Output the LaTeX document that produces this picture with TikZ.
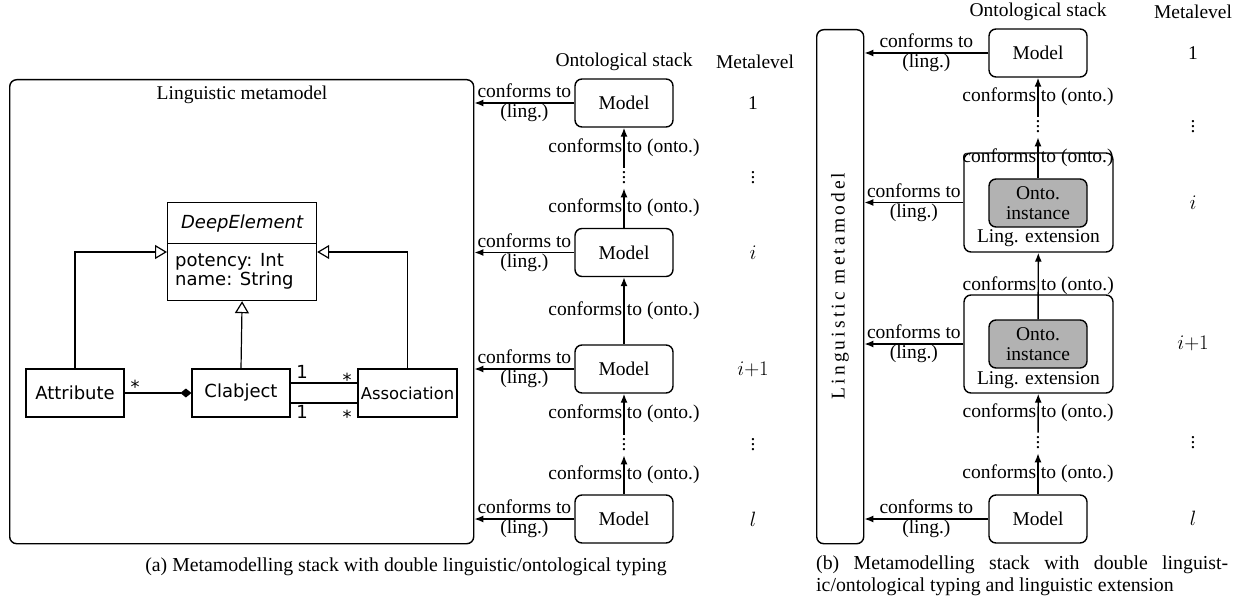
\documentclass[tikz,border=0pt]{standalone}
\usepackage{fontspec}
\setmainfont{Liberation Serif}
\newfontfamily\umlfont{DejaVu Sans}
\newfontfamily\spacedfont[LetterSpace=16]{Liberation Serif}
\usetikzlibrary{arrows.meta}
\newcommand\vdt{\vbox{\baselineskip5pt\lineskiplimit0pt\hbox{.}\hbox{.}\hbox{.}}}
\begin{document}
\begin{tikzpicture}[x=1pt,y=-1pt,
  every node/.style={font=\fontsize{19.5}{20}\selectfont, inner sep=0pt},
  mbox/.style={draw, rounded corners=7pt, line width=1.4pt, minimum width=98pt, minimum height=48pt},
  umlbox/.style={draw, line width=1.2pt, font=\umlfont\fontsize{18}{19}\selectfont, minimum width=98pt, minimum height=48pt},
  umltxt/.style={font=\umlfont\fontsize{18}{19}\selectfont},
  confarrow/.style={-{Latex[length=9pt,width=7pt]}, line width=1.4pt},
  genarrow/.style={-{Triangle[open,length=12pt,width=14pt]}, line width=1.2pt},
  dotsnode/.style={inner ysep=4pt, inner xsep=2pt},
  capfont/.style={font=\fontsize{19.8}{22}\selectfont}
]
\useasboundingbox (0,0) rectangle (1244,604);

% ================= Panel (a) =================
\node[draw, rounded corners=7pt, line width=1.4pt, minimum width=464pt, minimum height=464pt, anchor=north west] (lmm) at (9,79) {};
\node (lmmt) at (242,95) {Linguistic metamodel};

% UML
\node[draw, line width=1.2pt, minimum width=149pt, minimum height=41pt, anchor=north west, umltxt] (deh) at (167,202) {\itshape DeepElement};
\node[draw, line width=1.2pt, minimum width=149pt, minimum height=57pt, anchor=north west] (deb) at (167,243) {};
\node[umltxt, anchor=west, align=left] (debt) at (175,271) {potency: Int\\name: String};
\node[umlbox] (attr) at (75,393) {Attribute};
\node[umlbox] (clab) at (241,393) {Clabject};
\node[umlbox, minimum width=99pt, font=\umlfont\fontsize{16.4}{18}\selectfont] (assoc) at (407.5,393) {Association};

\draw[genarrow] (attr.north) |- ([yshift=-9pt]deb.north west);
\draw[genarrow] (assoc.north) |- ([yshift=-9pt]deb.north east);
\draw[genarrow] (clab.north) -- (deb.south);
\draw[line width=1.2pt, -{Diamond[length=11pt,width=9pt]}] (attr.east) -- (clab.west);
\draw[line width=1.2pt] ([yshift=10pt]clab.east) -- ([yshift=10pt]assoc.west);
\draw[line width=1.2pt] ([yshift=-10pt]clab.east) -- ([yshift=-10pt]assoc.west);
\node[umltxt, anchor=base] (m0) at (135,393.5) {*};
\node[umltxt, anchor=base] (m1a) at (302,378.5) {1};
\node[umltxt, anchor=base] (m1b) at (347,386) {*};
\node[umltxt, anchor=base] (m2a) at (302,418) {1};
\node[umltxt, anchor=base] (m2b) at (347,423) {*};

% stack (a)
\node (hos) at (624,62) {Ontological stack};
\node (hml) at (755,62) {Metalevel};
\node[mbox] (am1) at (624,103) {Model};
\node[dotsnode] (ad1) at (624,178) {\vdt};
\node[mbox] (ami) at (624,252.5) {Model};
\node[mbox] (amj) at (624,369) {Model};
\node[dotsnode] (ad2) at (624,445) {\vdt};
\node[mbox] (aml) at (624,519) {Model};

\draw[confarrow] (ad1) -- (am1) node[midway] {conforms to (onto.)};
\draw[confarrow] (ami) -- (ad1) node[midway] {conforms to (onto.)};
\draw[confarrow] (amj) -- (ami) node[midway] {conforms to (onto.)};
\draw[confarrow] (ad2) -- (amj) node[midway] {conforms to (onto.)};
\draw[confarrow] (aml) -- (ad2) node[midway] {conforms to (onto.)};

\foreach \n in {am1,ami,amj,aml}{
  \draw[confarrow] (\n.west) -- (\n.west -| lmm.east) node[midway, align=center] {conforms to\\(ling.)};
}

\node (al1) at (753,103) {1};
\node[dotsnode] (ald1) at (753,178) {\vdt};
\node (ali) at (753,252.5) {$i$};
\node (alj) at (753,369) {$i{+}1$};
\node[dotsnode] (ald2) at (753,445) {\vdt};
\node (all) at (753,519) {$l$};

\node[capfont] (capa) at (406,567) {(a) Metamodelling stack with double linguistic/ontological typing};

% ================= Panel (b) =================
\node[draw, rounded corners=7pt, line width=1.4pt, minimum width=47pt, minimum height=514pt, anchor=north west] (blmm) at (816,29) {};
\node[rotate=90] (blmmt) at (840,286) {\spacedfont Linguistic metamodel};

\node (bhos) at (1038,12) {Ontological stack};
\node (bhml) at (1193,12) {Metalevel};

\node[mbox] (bm1) at (1038,53) {Model};
\node[dotsnode] (bd1) at (1038,127) {\vdt};
\node[mbox, minimum width=149pt, minimum height=99pt] (be1) at (1038.5,202.5) {};
\node[mbox, fill=gray!60, align=center] (bo1) at (1038,203) {Onto.\\instance};
\node (bt1) at (1038.5,238) {Ling. extension};
\node[mbox, minimum width=149pt, minimum height=98pt] (be2) at (1038.5,344) {};
\node[mbox, fill=gray!60, align=center] (bo2) at (1038,344) {Onto.\\instance};
\node (bt2) at (1038.5,380) {Ling. extension};
\node[dotsnode] (bd2) at (1038,443) {\vdt};
\node[mbox] (bml) at (1038,519) {Model};

\draw[confarrow] (bd1) -- (bm1) node[midway] {conforms to (onto.)};
\draw[confarrow] (bo1) -- (bd1) node[midway] {conforms to (onto.)};
\draw[confarrow] (bo2) -- (be1) node[midway] {conforms to (onto.)};
\draw[confarrow] (bd2) -- (be2) node[midway] {conforms to (onto.)};
\draw[confarrow] (bml) -- (bd2) node[midway] {conforms to (onto.)};

\foreach \n in {bm1,be1,be2,bml}{
  \draw[confarrow] (\n.west) -- (\n.west -| blmm.east) node[midway, align=center] {conforms to\\(ling.)};
}

\node (bl1) at (1193,53) {1};
\node[dotsnode] (bld1) at (1193,127) {\vdt};
\node (bli) at (1193,203) {$i$};
\node (blj) at (1193,343) {$i{+}1$};
\node[dotsnode] (bld2) at (1193,443) {\vdt};
\node (bll) at (1193,518) {$l$};

\node[capfont, anchor=north west, align=left] (capb) at (816,556) {\makebox[412pt][s]{(b) Metamodelling stack with double linguist-}\\ic/ontological typing and linguistic extension};
\end{tikzpicture}
\end{document}
